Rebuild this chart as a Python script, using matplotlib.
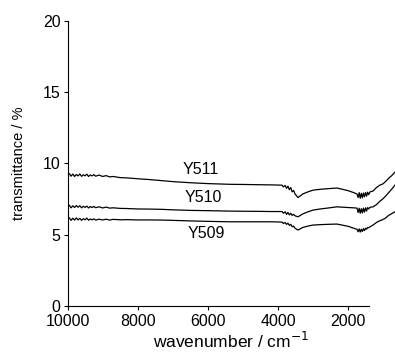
import matplotlib
matplotlib.use("Agg")
import matplotlib.pyplot as plt

plt.rcParams['font.family'] = ['Liberation Sans', 'DejaVu Sans']

# wavenumbers (cm-1), shared by all three spectra
wavenumber = [10000, 9950, 9900, 9850, 9800, 9750, 9700, 9650, 9600, 9550,
              9500, 9450, 9400, 9350, 9300, 9250, 9200, 9100, 9000, 8900,
              8800, 8700, 8500, 8300, 8000, 7600, 7280, 7000, 6500, 6000,
              5370, 5000, 4500, 4200, 3889, 3850, 3800, 3760, 3720, 3680,
              3640, 3600, 3560, 3518, 3433, 3300, 3150, 3006, 2800, 2600,
              2322, 2200, 2000, 1850, 1752, 1720, 1690, 1660, 1630, 1600,
              1570, 1540, 1510, 1480, 1450, 1420, 1382, 1296, 1200, 1097,
              1020, 954, 850, 760, 670]

y511 = [9.18, 9.28, 9.10, 9.25, 9.08, 9.22, 9.12, 9.26, 9.09, 9.20,
        9.13, 9.24, 9.08, 9.19, 9.12, 9.21, 9.10, 9.18, 9.08, 9.14,
        9.05, 9.08, 9.00, 8.98, 8.92, 8.85, 8.78, 8.72, 8.64, 8.58,
        8.53, 8.52, 8.50, 8.49, 8.47, 8.35, 8.45, 8.25, 8.40, 8.15,
        8.30, 8.00, 8.10, 7.85, 7.60, 7.85, 8.00, 8.12, 8.18, 8.22,
        8.27, 8.20, 8.08, 7.95, 7.85, 7.60, 7.95, 7.55, 7.90, 7.58,
        7.92, 7.65, 7.95, 7.70, 7.98, 7.80, 8.00, 8.06, 8.30, 8.48,
        8.55, 8.69, 8.95, 9.15, 9.39]

y510 = [6.96, 7.06, 6.88, 7.02, 6.90, 7.04, 6.92, 7.03, 6.88, 6.99,
        6.91, 7.00, 6.87, 6.97, 6.90, 6.98, 6.89, 6.95, 6.87, 6.93,
        6.86, 6.88, 6.84, 6.83, 6.80, 6.79, 6.77, 6.74, 6.70, 6.68,
        6.65, 6.64, 6.63, 6.62, 6.62, 6.50, 6.60, 6.42, 6.56, 6.38,
        6.50, 6.35, 6.42, 6.32, 6.25, 6.45, 6.60, 6.72, 6.80, 6.86,
        6.95, 6.93, 6.90, 6.88, 6.86, 6.55, 6.85, 6.50, 6.82, 6.52,
        6.86, 6.58, 6.88, 6.65, 6.90, 6.80, 6.92, 6.95, 7.10, 7.35,
        7.50, 7.66, 7.95, 8.20, 8.48]

y509 = [6.09, 6.18, 6.00, 6.15, 6.02, 6.17, 6.03, 6.14, 6.00, 6.12,
        6.04, 6.16, 6.01, 6.10, 6.03, 6.11, 6.02, 6.08, 6.03, 6.08,
        6.02, 6.07, 6.04, 6.05, 6.03, 6.03, 6.02, 6.00, 5.96, 5.93,
        5.90, 5.90, 5.90, 5.90, 5.88, 5.78, 5.85, 5.72, 5.80, 5.65,
        5.72, 5.55, 5.60, 5.45, 5.32, 5.50, 5.60, 5.67, 5.70, 5.72,
        5.74, 5.68, 5.58, 5.45, 5.37, 5.20, 5.40, 5.18, 5.38, 5.22,
        5.42, 5.28, 5.45, 5.38, 5.50, 5.48, 5.55, 5.67, 5.85, 5.98,
        6.05, 6.14, 6.35, 6.48, 6.60]

names = ["Y511", "Y510", "Y509"]
label_pos = [(6200, 9.6), (6120, 7.6), (6050, 5.05)]

fig = plt.figure(figsize=(3.95, 3.54), dpi=100)
ax = fig.add_axes([0.171, 0.136, 0.829, 0.805])

for ys, name, (lx, ly) in zip([y511, y510, y509], names, label_pos):
    ax.plot(wavenumber, ys, color="black", lw=0.9)
    ax.text(lx, ly, name, fontsize=11.5, ha="center", va="center")

ax.set_xlim(10000, 670)
ax.set_ylim(0, 20)
ax.set_xticks([10000, 8000, 6000, 4000, 2000])
ax.set_yticks([0, 5, 10, 15, 20])
ax.spines['top'].set_visible(False)
ax.spines['right'].set_visible(False)
ax.spines['bottom'].set_bounds(10000, 1400)
ax.tick_params(labelsize=11.5, length=3, width=0.8)
ax.tick_params(axis='x', pad=3)
ax.tick_params(axis='y', pad=2)
ax.set_xlabel("wavenumber / cm$^{-1}$", fontsize=12.5, labelpad=1)
ax.set_ylabel("transmittance / %", fontsize=10.5, labelpad=12)

fig.savefig("out.png", dpi=100)
